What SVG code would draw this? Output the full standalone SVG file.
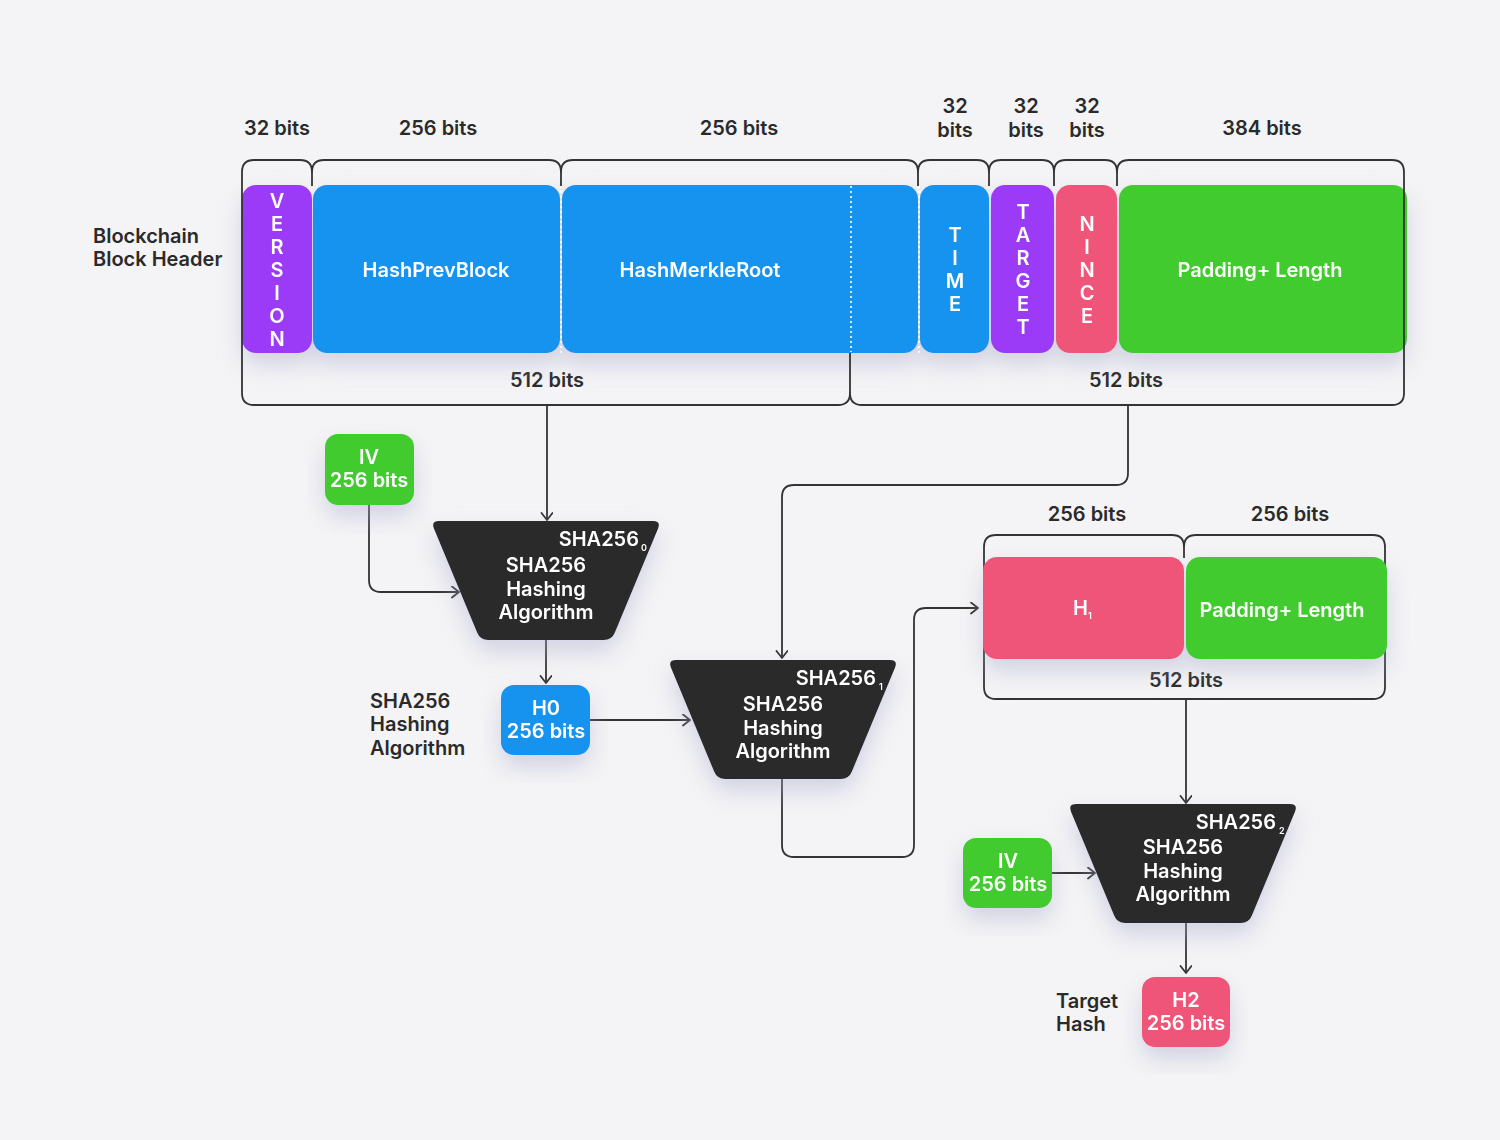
<svg xmlns="http://www.w3.org/2000/svg" width="1500" height="1140" viewBox="0 0 1500 1140">
<defs>
<style>
text{font-family:Inter,"Noto Sans","Liberation Sans",sans-serif;font-weight:600;font-size:20px}
.dk{fill:#2a2a2a}
.wt{fill:#ffffff}
.c{text-anchor:middle}
.e{text-anchor:end}
.sub{font-size:9px}
.ln{fill:none;stroke:#333333;stroke-width:1.8;stroke-linejoin:round}
.con{fill:none;stroke:#333333;stroke-width:1.8;marker-end:url(#arr)}
.dot{stroke:#ffffff;stroke-width:1.6;stroke-dasharray:2 3;fill:none}
.pu{fill:#9b3af7}.bl{fill:#1593ee}.gr{fill:#42cb2e}.pk{fill:#ef5478}.tr{fill:#2a2a2a}
</style>
<filter id="sh" x="-20%" y="-20%" width="140%" height="160%">
<feDropShadow dx="0" dy="12" stdDeviation="12" flood-color="#a8a8cc" flood-opacity="0.45"/>
</filter>
<marker id="arr" markerUnits="userSpaceOnUse" markerWidth="14" markerHeight="14" refX="10" refY="6" orient="auto">
<path d="M3,0.5 L10,6 L3,11.5" fill="none" stroke="#333333" stroke-width="1.8" stroke-linecap="round" stroke-linejoin="round"/>
</marker>
<path id="trap" d="M8,0 L222,0 Q230,0 227.1,7.4 L183.9,111.6 Q181,119 173,119 L57,119 Q49,119 46.1,111.6 L2.9,7.4 Q0,0 8,0 Z"/>
</defs>
<rect width="1500" height="1140" fill="#f4f4f6"/>

<g id="labels">
<text class="dk" x="93" y="243">Blockchain</text>
<text class="dk" x="93" y="266">Block Header</text>
<text class="dk c" x="277" y="135">32 bits</text>
<text class="dk c" x="438" y="135">256 bits</text>
<text class="dk c" x="739" y="135">256 bits</text>
<text class="dk c" x="955" y="113">32</text><text class="dk c" x="955" y="137">bits</text>
<text class="dk c" x="1026" y="113">32</text><text class="dk c" x="1026" y="137">bits</text>
<text class="dk c" x="1087" y="113">32</text><text class="dk c" x="1087" y="137">bits</text>
<text class="dk c" x="1262" y="135">384 bits</text>
<text class="dk c" x="547" y="387">512 bits</text>
<text class="dk c" x="1126" y="387">512 bits</text>
<text class="dk" x="370" y="708">SHA256</text>
<text class="dk" x="370" y="731">Hashing</text>
<text class="dk" x="370" y="755">Algorithm</text>
<text class="dk c" x="1087" y="521">256 bits</text>
<text class="dk c" x="1290" y="521">256 bits</text>
<text class="dk c" x="1186" y="687">512 bits</text>
<text class="dk" x="1056" y="1008">Target</text>
<text class="dk" x="1056" y="1031">Hash</text>
</g>

<g id="header-blocks" filter="url(#sh)">
<g id="version"><rect class="pu" x="242" y="185" width="70" height="168" rx="14"/>
<text class="wt c"><tspan x="277" y="208">V</tspan><tspan x="277" y="231">E</tspan><tspan x="277" y="254">R</tspan><tspan x="277" y="277">S</tspan><tspan x="277" y="300">I</tspan><tspan x="277" y="323">O</tspan><tspan x="277" y="346">N</tspan></text></g>
<g id="hashprev"><rect class="bl" x="313" y="185" width="247" height="168" rx="14"/>
<text class="wt c" x="436" y="277">HashPrevBlock</text></g>
<g id="merkle"><rect class="bl" x="562" y="185" width="356" height="168" rx="14"/>
<text class="wt c" x="700" y="277">HashMerkleRoot</text></g>
<g id="time"><rect class="bl" x="920" y="185" width="69" height="168" rx="14"/>
<text class="wt c"><tspan x="955" y="242">T</tspan><tspan x="955" y="265">I</tspan><tspan x="955" y="288">M</tspan><tspan x="955" y="311">E</tspan></text></g>
<g id="target"><rect class="pu" x="991" y="185" width="63" height="168" rx="14"/>
<text class="wt c"><tspan x="1023" y="219">T</tspan><tspan x="1023" y="242">A</tspan><tspan x="1023" y="265">R</tspan><tspan x="1023" y="288">G</tspan><tspan x="1023" y="311">E</tspan><tspan x="1023" y="334">T</tspan></text></g>
<g id="nince"><rect class="pk" x="1056" y="185" width="61" height="168" rx="14"/>
<text class="wt c"><tspan x="1087" y="231">N</tspan><tspan x="1087" y="254">I</tspan><tspan x="1087" y="277">N</tspan><tspan x="1087" y="300">C</tspan><tspan x="1087" y="323">E</tspan></text></g>
<g id="padding1"><rect class="gr" x="1119" y="185" width="288" height="168" rx="14"/>
<text class="wt c" x="1260" y="277">Padding+ Length</text></g>
</g>
<g id="dots">
<line class="dot" x1="561" y1="186" x2="561" y2="354"/>
<line class="dot" x1="851" y1="186" x2="851" y2="352"/>
<line class="dot" x1="919" y1="186" x2="919" y2="354"/>
</g>

<g id="brackets">
<path class="ln" d="M242,393 L242,172 Q242,160 254,160 L300,160 Q312,160 312,172 Q312,160 324,160 L549,160 Q561,160 561,172 Q561,160 573,160 L906,160 Q918,160 918,172 Q918,160 930,160 L977,160 Q989,160 989,172 Q989,160 1001,160 L1042,160 Q1054,160 1054,172 Q1054,160 1066,160 L1105,160 Q1117,160 1117,172 Q1117,160 1129,160 L1392,160 Q1404,160 1404,172 L1404,393 Q1404,405 1392,405 L862,405 Q850,405 850,393 Q850,405 838,405 L254,405 Q242,405 242,393 Z"/>
<path class="ln" d="M312,172 L312,186 M561,172 L561,186 M918,172 L918,186 M989,172 L989,186 M1054,172 L1054,186 M1117,172 L1117,186 M850,393 L850,353"/>
<path class="ln" d="M984,687 L984,547 Q984,535 996,535 L1172,535 Q1184,535 1184,547 Q1184,535 1196,535 L1373,535 Q1385,535 1385,547 L1385,687 Q1385,699 1373,699 L996,699 Q984,699 984,687 Z M1184,547 L1184,558"/>
</g>

<g id="connectors">
<path class="con" d="M547,406 L547,520"/>
<path class="con" d="M369,505 L369,580 Q369,592 381,592 L459,592"/>
<path class="con" d="M546,640 L546,683"/>
<path class="con" d="M590,720 L690,720"/>
<path class="con" d="M1128,406 L1128,473 Q1128,485 1116,485 L794,485 Q782,485 782,497 L782,658"/>
<path class="con" d="M782,778 L782,845 Q782,857 794,857 L902,857 Q914,857 914,845 L914,620 Q914,608 926,608 L978,608"/>
<path class="con" d="M1186,700 L1186,803"/>
<path class="con" d="M1052,873 L1095,873"/>
<path class="con" d="M1186,922 L1186,973"/>
</g>

<g id="iv1" filter="url(#sh)"><rect class="gr" x="325" y="434" width="89" height="71" rx="13"/>
<text class="wt c" x="369" y="464">IV</text><text class="wt c" x="369" y="487">256 bits</text></g>

<g id="sha0" filter="url(#sh)"><use href="#trap" class="tr" transform="translate(431,521)"/>
<text class="wt e" x="639" y="546">SHA256</text><text class="wt sub" x="641" y="551">0</text>
<text class="wt c" x="546" y="572">SHA256</text><text class="wt c" x="546" y="596">Hashing</text><text class="wt c" x="546" y="619">Algorithm</text></g>

<g id="h0" filter="url(#sh)"><rect class="bl" x="501" y="685" width="89" height="70" rx="13"/>
<text class="wt c" x="546" y="715">H0</text><text class="wt c" x="546" y="738">256 bits</text></g>

<g id="sha1" filter="url(#sh)"><use href="#trap" class="tr" transform="translate(668,660)"/>
<text class="wt e" x="876" y="685">SHA256</text><text class="wt sub" x="879" y="690">1</text>
<text class="wt c" x="783" y="711">SHA256</text><text class="wt c" x="783" y="735">Hashing</text><text class="wt c" x="783" y="758">Algorithm</text></g>

<g id="h1block" filter="url(#sh)">
<rect class="pk" x="983" y="557" width="201" height="102" rx="14"/>
<rect class="gr" x="1186" y="557" width="201" height="102" rx="14"/>
<text class="wt" x="1073" y="615">H<tspan class="sub" dy="4">1</tspan></text>
<text class="wt c" x="1282" y="617">Padding+ Length</text>
</g>

<g id="sha2" filter="url(#sh)"><use href="#trap" class="tr" transform="translate(1068,804)"/>
<text class="wt e" x="1276" y="829">SHA256</text><text class="wt sub" x="1279" y="834">2</text>
<text class="wt c" x="1183" y="854">SHA256</text><text class="wt c" x="1183" y="878">Hashing</text><text class="wt c" x="1183" y="901">Algorithm</text></g>

<g id="iv2" filter="url(#sh)"><rect class="gr" x="963" y="838" width="89" height="70" rx="13"/>
<text class="wt c" x="1008" y="868">IV</text><text class="wt c" x="1008" y="891">256 bits</text></g>

<g id="h2" filter="url(#sh)"><rect class="pk" x="1142" y="977" width="88" height="70" rx="13"/>
<text class="wt c" x="1186" y="1007">H2</text><text class="wt c" x="1186" y="1030">256 bits</text></g>
</svg>
